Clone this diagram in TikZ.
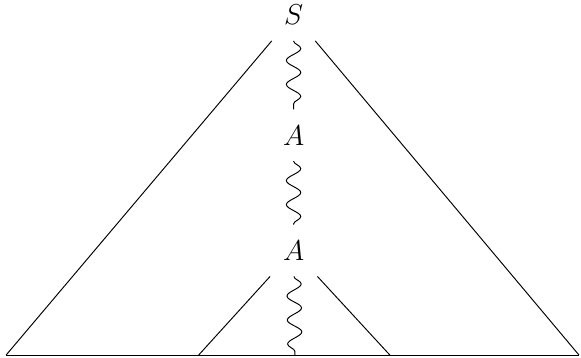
\documentclass[tikz,border=0pt]{standalone}
\usetikzlibrary{decorations.pathmorphing}
\tikzset{
  cat/.style={inner sep=6.5pt, font=\large},
  wavy/.style={decorate, decoration={snake, amplitude=3pt, segment length=10pt}},
}
\begin{document}
\begin{tikzpicture}
  \useasboundingbox (0,0) rectangle (8.51,5.24);
  % category nodes on the spine
  \node[cat] (S)  at (4.30,5.02) {$S$};
  \node[cat] (A1) at (4.30,3.26) {$A$};
  \node[cat] (A2) at (4.30,1.57) {$A$};
  % base line corners
  \coordinate (bl) at (0.09,0.04);
  \coordinate (br) at (8.48,0.04);
  \coordinate (il) at (2.91,0.04);
  \coordinate (ir) at (5.71,0.04);
  \coordinate (bm) at (4.32,0.04);

  \draw (S) -- (bl);
  \draw (S) -- (br);
  \draw (A2) -- (il);
  \draw (A2) -- (ir);
  \draw (bl) -- (br);

  \draw[wavy] (S) -- (A1);
  \draw[wavy] (A1) -- (A2);
  \draw[wavy] (A2) -- (bm);
\end{tikzpicture}
\end{document}
